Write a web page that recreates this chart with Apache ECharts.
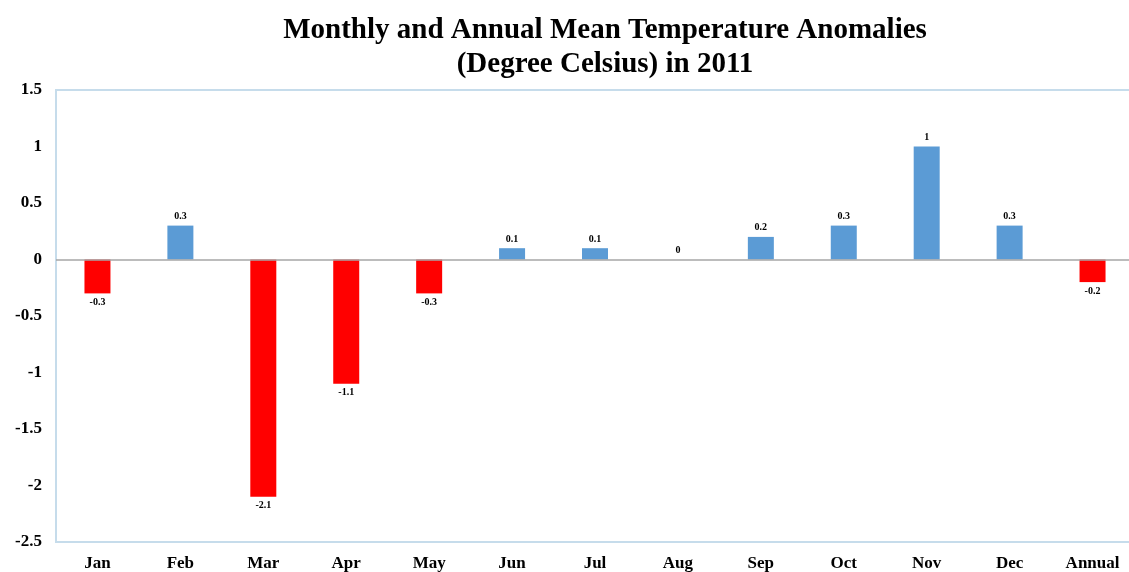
<!DOCTYPE html>
<html>
<head>
<meta charset="utf-8">
<script src="https://cdn.jsdelivr.net/npm/echarts@6/dist/echarts.min.js"></script>
<style>
  html, body { margin: 0; padding: 0; background: #fff; overflow: hidden; }
  #chart { width: 1140px; height: 572px; }
</style>
</head>
<body>
<div id="chart"></div>
<script>
const categories = ['Jan', 'Feb', 'Mar', 'Apr', 'May', 'Jun', 'Jul', 'Aug', 'Sep', 'Oct', 'Nov', 'Dec', 'Annual'];
const anomalies = [-0.3, 0.3, -2.1, -1.1, -0.3, 0.1, 0.1, 0, 0.2, 0.3, 1, 0.3, -0.2];
const yTicks = { min: -2.5, max: 1.5, interval: 0.5 };

const serif = '"Liberation Serif", "DejaVu Serif", serif';
const blue = '#5b9bd5';
const red = '#ff0000';

const barData = anomalies.map(v => ({
  value: v,
  itemStyle: { color: v < 0 ? red : blue },
  label: { position: v < 0 ? 'bottom' : 'top' }
}));

const chart = echarts.init(document.getElementById('chart'));
chart.setOption({
  animation: false,
  title: {
    text: 'Monthly and Annual Mean Temperature Anomalies\n(Degree Celsius) in 2011',
    left: 600,
    textAlign: 'center',
    top: 9,
    textStyle: {
      fontFamily: serif,
      fontWeight: 'bold',
      fontSize: 29,
      lineHeight: 34,
      color: '#000'
    }
  },
  grid: {
    left: 56,
    top: 90,
    width: 1078,
    height: 452,
    show: true,
    borderColor: '#c6dceb',
    borderWidth: 2
  },
  xAxis: {
    type: 'category',
    data: categories,
    axisLine: { onZero: false, lineStyle: { color: '#c6dceb', width: 2 } },
    axisTick: { show: false },
    axisLabel: {
      margin: 13,
      color: '#000',
      fontFamily: serif,
      fontWeight: 'bold',
      fontSize: 17
    }
  },
  yAxis: {
    type: 'value',
    min: yTicks.min,
    max: yTicks.max,
    interval: yTicks.interval,
    splitLine: { show: false },
    axisLine: { show: true, lineStyle: { color: '#c6dceb', width: 2 } },
    axisTick: { show: false },
    axisLabel: {
      margin: 14,
      color: '#000',
      fontFamily: serif,
      fontWeight: 'bold',
      fontSize: 17
    }
  },
  series: [{
    type: 'bar',
    data: barData,
    barWidth: 26,
    label: {
      show: true,
      distance: 4,
      color: '#000',
      fontFamily: serif,
      fontWeight: 'bold',
      fontSize: 10
    },
    markLine: {
      silent: true,
      symbol: 'none',
      label: { show: false },
      lineStyle: { color: '#a6a6a6', type: 'solid', width: 1.5 },
      data: [{ yAxis: 0 }]
    }
  }]
});
</script>
</body>
</html>
